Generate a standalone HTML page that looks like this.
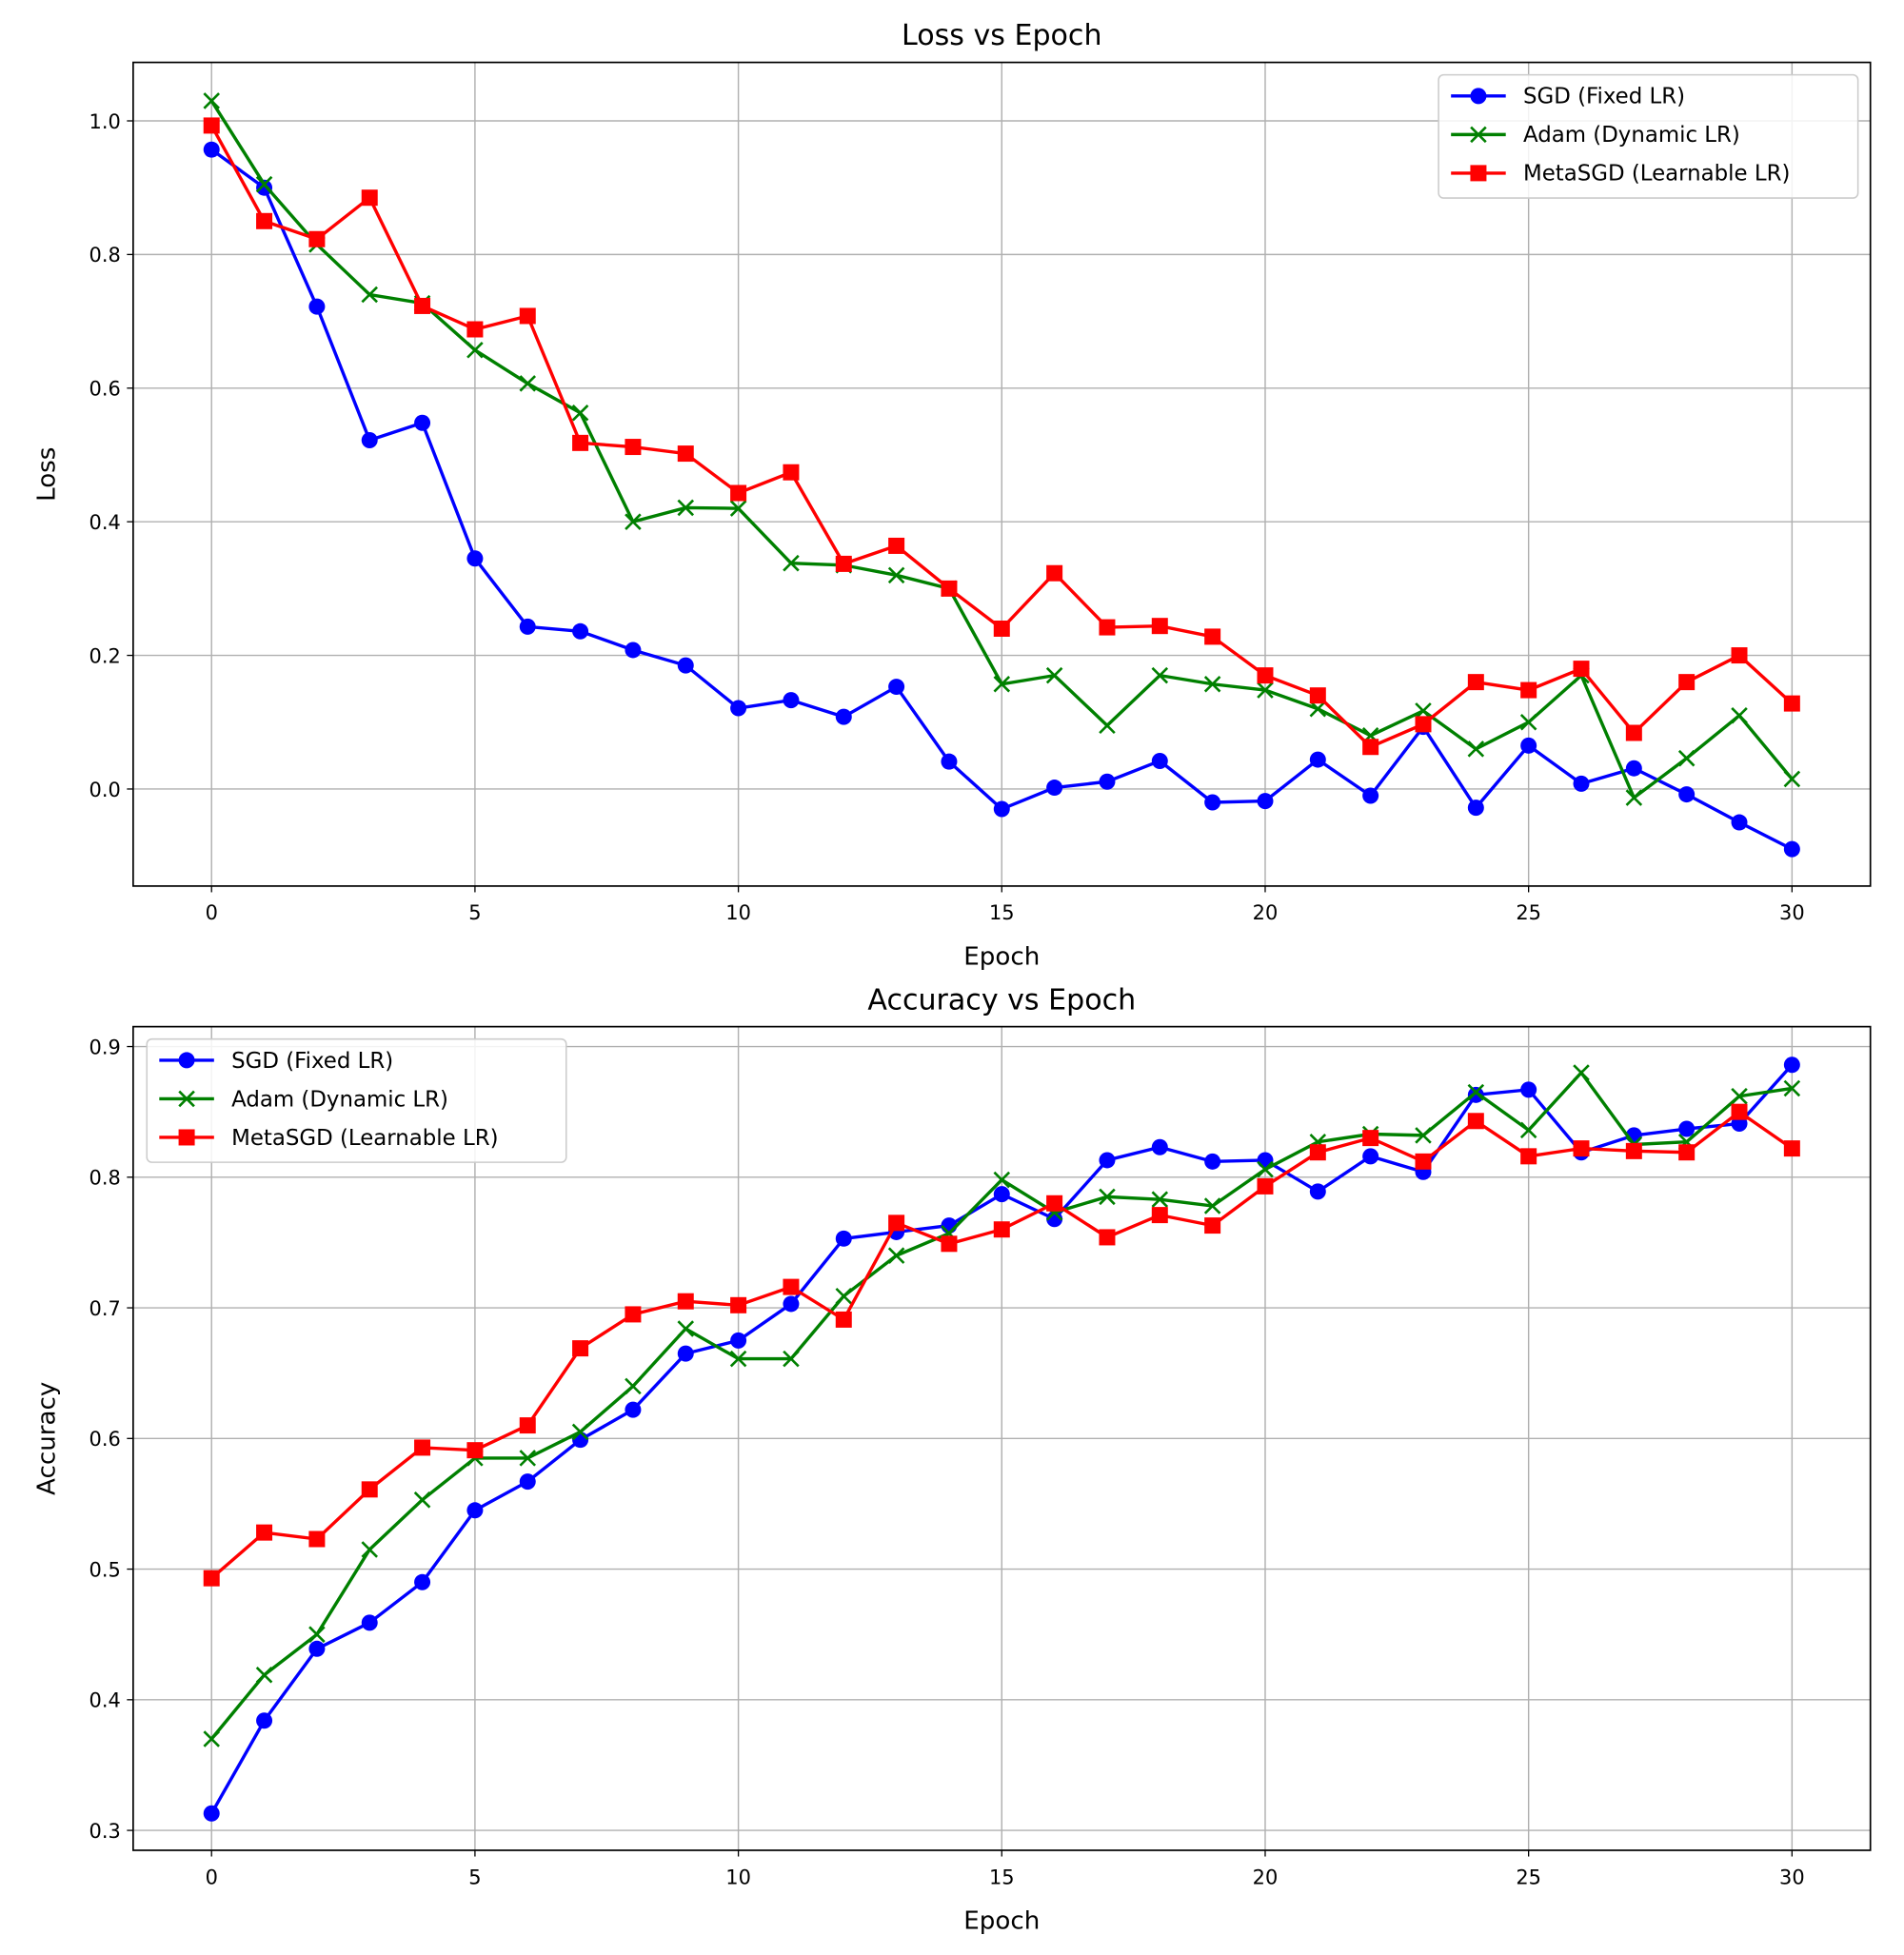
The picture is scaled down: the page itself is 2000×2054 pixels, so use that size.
<!DOCTYPE html>
<html><head><meta charset="utf-8"><style>
html,body{margin:0;padding:0;background:#fff;}
svg{display:block;font-family:"DejaVu Sans","Liberation Sans",sans-serif;}
</style></head><body>
<svg id="chart" width="2000" height="2054" viewBox="0 0 1530 1571" xmlns="http://www.w3.org/2000/svg"></svg>
<script>
const epochs = Array.from({length:31},(_,i)=>i);
const lossSGD = [0.957,0.9,0.722,0.522,0.548,0.345,0.243,0.236,0.208,0.185,0.121,0.133,0.108,0.153,0.041,-0.03,0.002,0.011,0.042,-0.02,-0.018,0.044,-0.01,0.093,-0.028,0.065,0.008,0.031,-0.008,-0.05,-0.09];
const lossAdam = [1.03,0.905,0.815,0.74,0.727,0.657,0.607,0.563,0.4,0.421,0.42,0.338,0.335,0.32,0.3,0.157,0.17,0.095,0.17,0.157,0.148,0.12,0.08,0.117,0.06,0.1,0.17,-0.013,0.046,0.11,0.015];
const lossMeta = [0.993,0.85,0.823,0.885,0.723,0.688,0.708,0.518,0.512,0.502,0.443,0.474,0.337,0.364,0.3,0.24,0.323,0.242,0.244,0.228,0.17,0.14,0.063,0.097,0.16,0.148,0.18,0.084,0.16,0.2,0.128];
const accSGD = [0.313,0.384,0.439,0.459,0.49,0.545,0.567,0.599,0.622,0.665,0.675,0.703,0.753,0.758,0.763,0.787,0.768,0.813,0.823,0.812,0.813,0.789,0.816,0.804,0.863,0.867,0.819,0.832,0.837,0.841,0.886];
const accAdam = [0.37,0.419,0.45,0.515,0.553,0.585,0.585,0.605,0.64,0.684,0.661,0.661,0.709,0.74,0.757,0.798,0.773,0.785,0.783,0.778,0.806,0.827,0.833,0.832,0.865,0.836,0.88,0.825,0.827,0.862,0.868];
const accMeta = [0.493,0.528,0.523,0.561,0.593,0.591,0.61,0.669,0.695,0.705,0.702,0.716,0.691,0.765,0.749,0.76,0.78,0.754,0.771,0.763,0.793,0.819,0.83,0.812,0.843,0.816,0.822,0.82,0.819,0.85,0.822];
const xTicks = [0,5,10,15,20,25,30];
const lossTicks = [0.0,0.2,0.4,0.6,0.8,1.0];
const accTicks = [0.3,0.4,0.5,0.6,0.7,0.8,0.9];
const seriesNames = ["SGD (Fixed LR)","Adam (Dynamic LR)","MetaSGD (Learnable LR)"];

const NS="http://www.w3.org/2000/svg";
const svg=document.getElementById('chart');
function mk(tag,attrs,parent){const e=document.createElementNS(NS,tag);for(const k in attrs)e.setAttribute(k,attrs[k]);(parent||svg).appendChild(e);return e;}

function panel(cfg){
  const g=mk('g',{});
  
  
  const xs=e=>170+(e-0)*(1440-170)/30;
  const ys=v=>cfg.y0px+(v-cfg.v0)*(cfg.y1px-cfg.y0px)/(cfg.v1-cfg.v0);
  // grid
  xTicks.forEach(t=>{const l=mk('line',{x1:xs(t),x2:xs(t),y1:cfg.top,y2:cfg.bottom,stroke:'#b0b0b0','stroke-width':1.1},g);
    });
  cfg.ticks.forEach(t=>{const l=mk('line',{x1:107,x2:1503,y1:ys(t),y2:ys(t),stroke:'#b0b0b0','stroke-width':1.1},g);
    });
  // ticks + labels
  xTicks.forEach(t=>{mk('line',{x1:xs(t),x2:xs(t),y1:cfg.bottom,y2:cfg.bottom+5,stroke:'#000','stroke-width':1},g);
    const tx=mk('text',{x:xs(t),y:cfg.bottom+27,'text-anchor':'middle','font-size':16},g);tx.textContent=t;
    });
  cfg.ticks.forEach(t=>{mk('line',{x1:102,x2:107,y1:ys(t),y2:ys(t),stroke:'#000','stroke-width':1},g);
    const tx=mk('text',{x:97,y:ys(t)+6,'text-anchor':'end','font-size':16},g);tx.textContent=t.toFixed(1);
    });
  // series
  const colors=['#0000ff','#008000','#ff0000'];
  cfg.series.forEach((arr,si)=>{
    const sg=mk('g',{},g);
    
    
    mk('polyline',{points:arr.map((v,i)=>xs(epochs[i])+','+ys(v)).join(' '),fill:'none',stroke:colors[si],'stroke-width':2.6},sg);
    arr.forEach((v,i)=>{const x=xs(epochs[i]),y=ys(v);let m;
      if(si===0)m=mk('circle',{cx:x,cy:y,r:6.5,fill:colors[0]},sg);
      else if(si===1)m=mk('path',{d:`M${x-6},${y-6}L${x+6},${y+6}M${x-6},${y+6}L${x+6},${y-6}`,stroke:colors[1],'stroke-width':2},sg);
      else m=mk('rect',{x:x-6.5,y:y-6.5,width:13,height:13,fill:colors[2]},sg);
      });
  });
  const fr=mk('rect',{x:107,y:cfg.top,width:1396,height:cfg.bottom-cfg.top,fill:'none',stroke:'#000','stroke-width':1.3},g);
  
  const ti=mk('text',{x:805,y:cfg.top-14,'text-anchor':'middle','font-size':23},g);ti.textContent=cfg.title;
  
  const xl=mk('text',{x:805,y:cfg.bottom+63,'text-anchor':'middle','font-size':20},g);xl.textContent='Epoch';
  
  const yc=(cfg.top+cfg.bottom)/2;
  const yl=mk('text',{x:44,y:yc,'text-anchor':'middle','font-size':20,transform:`rotate(-90 44 ${yc})`},g);yl.textContent=cfg.ylabel;
  
  // legend
  const lg=mk('g',{},g);
  
  const lx=cfg.legX,ly=cfg.legY;
  mk('rect',{x:lx,y:ly,width:337,height:99,rx:4,fill:'#fff','fill-opacity':0.85,stroke:'#ccc','stroke-width':1.2},lg);
  seriesNames.forEach((n,i)=>{const cy=ly+17+i*31,c=colors[i];
    const eg=mk('g',{},lg);
    mk('line',{x1:lx+10,x2:lx+54,y1:cy,y2:cy,stroke:c,'stroke-width':2.6},eg);
    const cx=lx+32;
    if(i===0)mk('circle',{cx:cx,cy:cy,r:6.5,fill:c},eg);
    else if(i===1)mk('path',{d:`M${cx-6},${cy-6}L${cx+6},${cy+6}M${cx-6},${cy+6}L${cx+6},${cy-6}`,stroke:c,'stroke-width':2},eg);
    else mk('rect',{x:cx-6.5,y:cy-6.5,width:13,height:13,fill:c},eg);
    const t=mk('text',{x:lx+68,y:cy+6,'font-size':17.5},eg);t.textContent=n;});
}
panel({name:'loss-panel',title:'Loss vs Epoch',ylabel:'Loss',top:50,bottom:712,v0:0,v1:1,y0px:634,y1px:97,ticks:lossTicks,series:[lossSGD,lossAdam,lossMeta],legX:1156,legY:60});
panel({name:'accuracy-panel',title:'Accuracy vs Epoch',ylabel:'Accuracy',top:825,bottom:1487,v0:0.3,v1:0.9,y0px:1471,y1px:841,ticks:accTicks,series:[accSGD,accAdam,accMeta],legX:118,legY:835});
</script>
</body></html>
